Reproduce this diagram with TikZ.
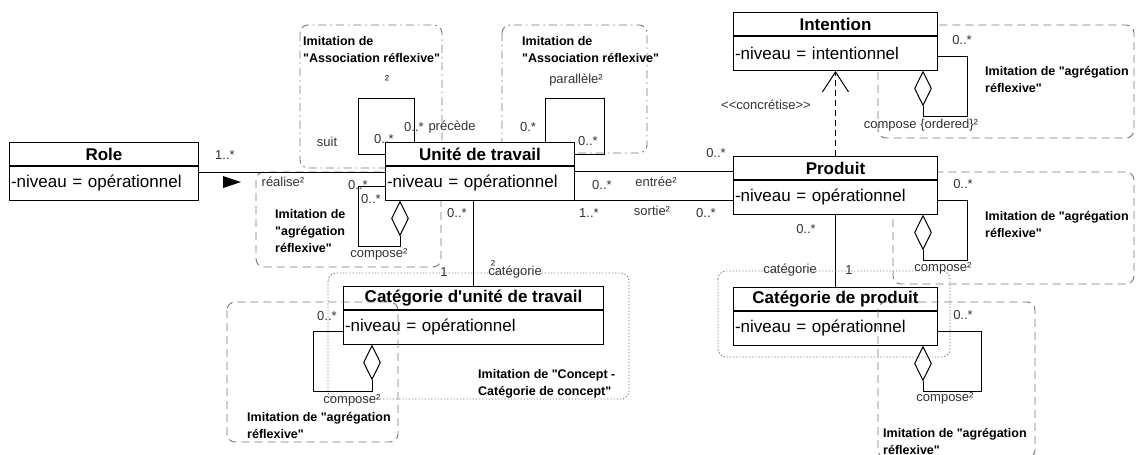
\documentclass[tikz,border=0pt]{standalone}
\usepackage{fontspec}
\setmainfont{Liberation Sans}[Ligatures=TeXOff]
\usepackage{tikz}
\usetikzlibrary{positioning,shapes.geometric,arrows.meta}
\definecolor{boxgray}{HTML}{777777}
\definecolor{lblgray}{HTML}{333333}

\begin{document}
\begin{tikzpicture}[x=1pt,y=-1pt,
  classtitle/.style={draw,fill=white,line width=1pt,minimum height=23pt,inner sep=0pt,font=\fontsize{17}{19}\selectfont\bfseries},
  classattr/.style={draw,fill=white,line width=1pt,minimum height=34pt,inner xsep=1.5pt,inner ysep=0pt,text width=#1,align=left,font=\fontsize{17}{19}\selectfont},
  aggdiamond/.style={diamond,draw,fill=white,line width=1pt,minimum width=17pt,minimum height=34pt,inner sep=0pt},
  assoc/.style={line width=1pt},
  lbl/.style={inner sep=0pt,text=lblgray,font=\fontsize{13}{15}\selectfont},
  note/.style={inner sep=0pt,anchor=north west,align=left,font=\fontsize{12.5}{17}\selectfont\bfseries},
  imitdash/.style={draw=boxgray,line width=0.9pt,rounded corners=8pt,dash pattern=on 8pt off 5pt},
  imitdashdot/.style={draw=boxgray,line width=0.9pt,rounded corners=8pt,dash pattern=on 8pt off 4pt on 1.5pt off 4pt},
  imitdot/.style={draw=boxgray,line width=0.9pt,rounded corners=8pt,dash pattern=on 1.2pt off 2pt}]
  \path[use as bounding box,fill=white] (0,0) rectangle (1136,455);

  % boxes behind the classes
  \draw[imitdash] (256,172) rectangle (441,267);
  \draw[imitdashdot] (300,25) rectangle (442,168);
  \draw[imitdashdot] (502,25) rectangle (647,153);
  \draw[imitdash] (878,25) rectangle (1134,138);
  \draw[imitdash] (893,172) rectangle (1134,284);

  % classes
  \node[classtitle,minimum width=189pt,anchor=north west] (role) at (9,142) {Role};
  \node[classattr=186pt,below=0pt of role] (roleA) {-niveau = opérationnel};
  \node[classtitle,minimum width=189pt,anchor=north west] (ut) at (385,142) {Unité de travail};
  \node[classattr=186pt,below=0pt of ut] (utA) {-niveau = opérationnel};
  \node[classtitle,minimum width=204pt,anchor=north west] (intent) at (733,12) {Intention};
  \node[classattr=201pt,below=0pt of intent] (intentA) {-niveau = intentionnel};
  \node[classtitle,minimum width=204pt,anchor=north west] (prod) at (733,156) {Produit};
  \node[classattr=201pt,below=0pt of prod] (prodA) {-niveau = opérationnel};
  \node[classtitle,minimum width=260pt,anchor=north west] (catut) at (343,286) {Catégorie d'unité de travail};
  \node[classattr=257pt,below=0pt of catut] (catutA) {-niveau = opérationnel};
  \node[classtitle,minimum width=204pt,anchor=north west] (catp) at (733,287) {Catégorie de produit};
  \node[classattr=201pt,below=0pt of catp] (catpA) {-niveau = opérationnel};

  % associations
  \draw[assoc] ([yshift=11pt]roleA.east) -- ([yshift=11pt]roleA.east -| utA.west);
  \fill (223,176) -- (241,182) -- (223,188) -- cycle;
  \draw[assoc] ([xshift=29pt]ut.north west) -- ++(0,-44) -| ([xshift=-27pt]ut.west) -- (ut.west);
  \draw[assoc] ([xshift=160pt]ut.north west) -- ++(0,-44) -| ([xshift=29pt]ut.east) -- (ut.east);
  \draw[assoc] ([yshift=-5pt]utA.north east) -- ([yshift=-5pt]utA.north east -| prod.west);
  \draw[assoc] ([yshift=1pt]utA.south east) -- ([yshift=1pt]utA.south east -| prodA.west);
  \draw[assoc] (utA.south -| catut.north) -- (catut.north);
  \draw[assoc] (prodA.south) -- (catp.north);
  \draw[assoc,dash pattern=on 6pt off 4pt,-{Straight Barb[length=20pt,width=26pt]}] (prod.north) -- (intentA.south);

  % aggregations
  \node[aggdiamond,anchor=north] (utD) at ([xshift=15pt]utA.south west) {};
  \draw[assoc] ([yshift=-3pt]utA.west) -- ++(-27,0) |- ([yshift=-10pt]utD.south) -- (utD.south);
  \node[aggdiamond,anchor=north] (intentD) at ([xshift=-15pt]intentA.south east) {};
  \draw[assoc] ([yshift=-3pt]intentA.east) -- ++(29,0) |- ([yshift=-10pt]intentD.south) -- (intentD.south);
  \node[aggdiamond,anchor=north] (prodD) at ([xshift=-15pt]prodA.south east) {};
  \draw[assoc] ([yshift=-3pt]prodA.east) -- ++(29,0) |- ([yshift=-10pt]prodD.south) -- (prodD.south);
  \node[aggdiamond,anchor=north] (catpD) at ([xshift=-15pt]catpA.south east) {};
  \draw[assoc] ([yshift=-3pt]catpA.east) -- ++(43,0) |- ([yshift=-10pt]catpD.south) -- (catpD.south);
  \node[aggdiamond,anchor=north] (catutD) at ([xshift=29pt]catutA.south west) {};
  \draw[assoc] ([yshift=-4pt]catutA.west) -- ++(-30,0) |- ([yshift=-11pt]catutD.south) -- (catutD.south);

  % boxes over the categories
  \draw[imitdash] (227,302) rectangle (398,442);
  \draw[imitdot] (328,273) rectangle (629,399);
  \draw[imitdot] (718,271) rectangle (950,357);
  \draw[imitdash] (878,302) rectangle (1035,458);

  % notes
  \node[note] (noteSuit) at (303,36) {Imitation de\\"Association réflexive"};
  \node[note] (notePar) at (522,36) {Imitation de\\"Association réflexive"};
  \node[note] (noteUtAgg) at (275,209) {Imitation de\\"agrégation\\réflexive"};
  \node[note] (noteIntAgg) at (985,66) {Imitation de "agrégation\\réflexive"};
  \node[note] (noteProdAgg) at (985,211) {Imitation de "agrégation\\réflexive"};
  \node[note] (noteCatutAgg) at (247,412) {Imitation de "agrégation\\réflexive"};
  \node[note] (noteConcept) at (478,369) {Imitation de "Concept -\\Catégorie de concept"};
  \node[note] (noteCatpAgg) at (883,428) {Imitation de "agrégation\\réflexive"};

  % labels
  \node[lbl] (mRole) at (225,155) {1..*};
  \node[lbl] (nRealise) at (283,182) {réalise²};
  \node[lbl] (nSuit) at (327,142) {suit};
  \node[lbl] (mSuit) at (384,139) {0..*};
  \node[lbl] (mPrec) at (414,127) {0..*};
  \node[lbl] (nPrec) at (452,127) {précède};
  \node[lbl] (nAssoc) at (387,80) {²};
  \node[lbl] (mParA) at (528,127) {0.*};
  \node[lbl] (mParB) at (588,141) {0..*};
  \node[lbl] (nPar) at (576,80) {parallèle²};
  \node[lbl] (mUtAggA) at (358,185) {0..*};
  \node[lbl] (mUtAggB) at (371,199) {0..*};
  \node[lbl] (nUtAgg) at (379,254) {compose²};
  \node[lbl] (mEntA) at (602,185) {0..*};
  \node[lbl] (nEnt) at (656,182) {entrée²};
  \node[lbl] (mEntB) at (716,153) {0..*};
  \node[lbl] (mSorA) at (589,213) {1..*};
  \node[lbl] (nSor) at (652,211) {sortie²};
  \node[lbl] (mSorB) at (706,213) {0..*};
  \node[lbl] (nConc) at (766,105) {<<concrétise>>};
  \node[lbl] (mIntAgg) at (962,40) {0..*};
  \node[lbl] (nIntAgg) at (921,125) {compose \{ordered\}²};
  \node[lbl] (mProdAgg) at (963,184) {0..*};
  \node[lbl] (nProdAgg) at (943,268) {compose²};
  \node[lbl] (mProdCat) at (806,229) {0..*};
  \node[lbl] (nProdCat) at (790,270) {catégorie};
  \node[lbl] (oProdCat) at (849,270) {1};
  \node[lbl] (mCatpAgg) at (963,315) {0..*};
  \node[lbl] (nCatpAgg) at (945,398) {compose²};
  \node[lbl] (mUtCat) at (457,213) {0..*};
  \node[lbl] (oUtCat) at (444,272) {1};
  \node[lbl] (nUtCat) at (515,272) {catégorie};
  \node[lbl] (sUtCat) at (493,265) {²};
  \node[lbl] (mCatutAgg) at (327,316) {0..*};
  \node[lbl] (nCatutAgg) at (352,400) {compose²};
\end{tikzpicture}
\end{document}
